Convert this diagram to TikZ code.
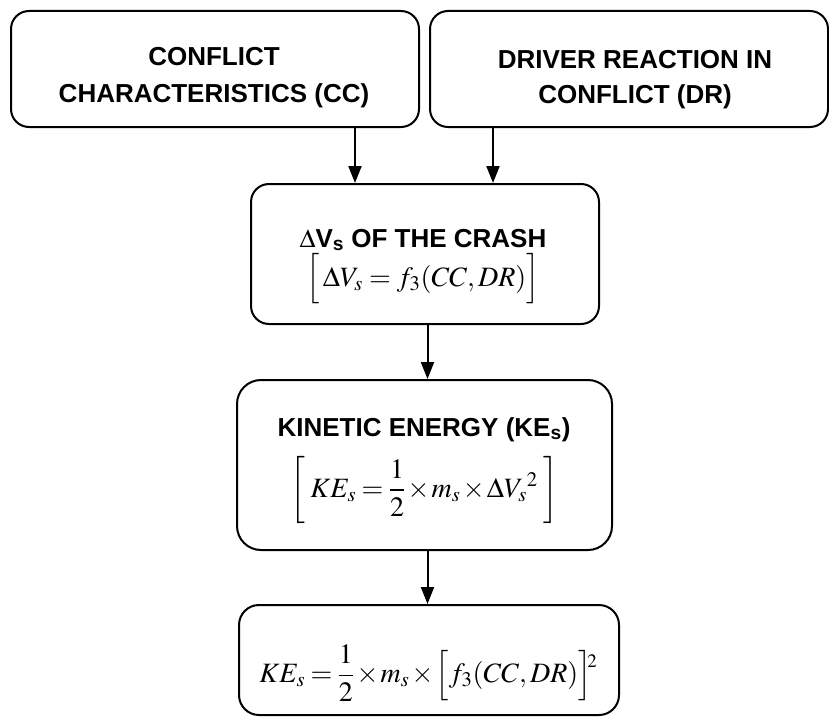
\documentclass[tikz,border=0pt]{standalone}
\usepackage{amsmath}
\usepackage{mathptmx}
\usepackage[no-math]{fontspec}
\newfontfamily\ttlfont{Liberation Sans}
\usetikzlibrary{arrows.meta}
\tikzset{
  box/.style={draw, line width=2pt, rounded corners=18pt, inner sep=0pt},
  ttl/.style={font=\ttlfont\bfseries\fontsize{26}{30}\selectfont, anchor=base, inner sep=0pt},
  frm/.style={font=\fontsize{28}{34}\selectfont, inner sep=0pt},
  arr/.style={line width=2pt, -{Triangle[width=13pt,length=17pt]}},
}
\newcommand{\tightmath}{\medmuskip=1.5mu\thickmuskip=3.5mu}
\begin{document}
\begin{tikzpicture}[x=1pt,y=-1pt]
\useasboundingbox (0,0) rectangle (829,717);
% boxes
\node[box, minimum width=408pt, minimum height=116pt] (cc) at (215,69) {};
\node[box, minimum width=398pt, minimum height=116pt] (dr) at (629,69) {};
\node[box, minimum width=348pt, minimum height=140pt] (dv) at (425,254) {};
\node[box, rounded corners=24pt, minimum width=375pt, minimum height=170pt] (ke) at (424.5,465) {};
\node[box, rounded corners=20pt, minimum width=380pt, minimum height=110pt] (fin) at (429,660) {};
% texts
\node[ttl] (cc1) at (214,66) {CONFLICT};
\node[ttl] (cc2) at (214,102) {CHARACTERISTICS (CC)};
\node[ttl] (dr1) at (635,68) {DRIVER REACTION IN};
\node[ttl] (dr2) at (635,103) {CONFLICT (DR)};
\node[ttl] (dvt) at (423,247) {$\Delta$V\textsubscript{s} OF THE CRASH};
\node[frm] (dvf) at (423,279) {$\Big[\,\Delta V_s = f_3(CC,DR)\Big]$};
\node[ttl] (ket) at (424,436) {KINETIC ENERGY (KE\textsubscript{s})};
\node[frm] (kef) at (424,490) {$\tightmath\left[\;KE_s = \dfrac{1}{2}\times m_s\times\Delta V_s{}^{2}\;\right]$};
\node[frm] (finf) at (428,673) {$\tightmath KE_s = \dfrac{1}{2}\times m_s\times\Big[f_3(CC,DR)\Big]\raisebox{15pt}{\fontsize{19}{20}\selectfont$\!\!2$}$};
% arrows
\draw[arr] ([xshift=140pt]cc.south) -- ([xshift=140pt]cc.south |- dv.north);
\draw[arr] ([xshift=-136pt]dr.south) -- ([xshift=-136pt]dr.south |- dv.north);
\draw[arr] ([xshift=2.5pt]dv.south) -- ([xshift=2.5pt]dv.south |- ke.north);
\draw[arr] ([xshift=3pt]ke.south) -- ([xshift=3pt]ke.south |- fin.north);
\end{tikzpicture}
\end{document}
